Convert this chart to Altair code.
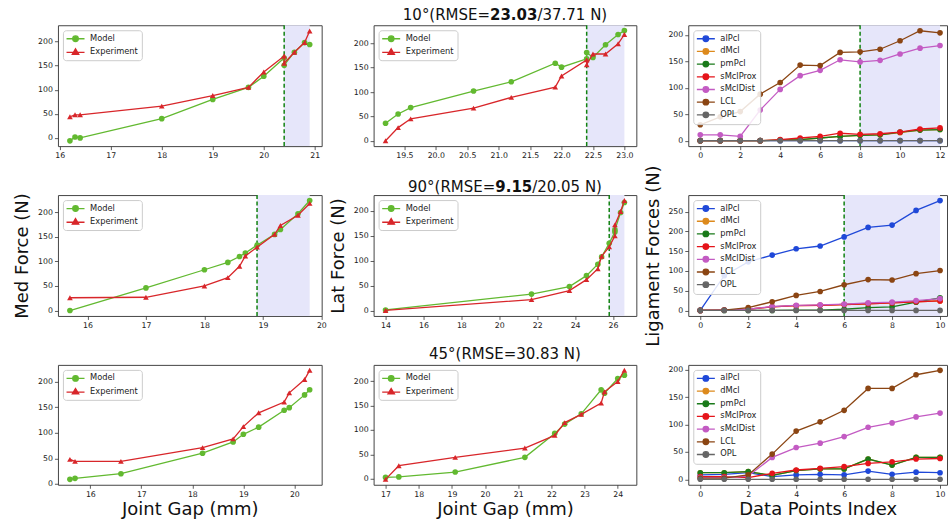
import altair as alt
import pandas as pd

FONT = "DejaVu Sans"

# ---------------- row titles ----------------
title_10 = ["10°(RMSE=", "23.03", "/37.71 N)"]
title_90 = ["90°(RMSE=", "9.15", "/20.05 N)"]
title_45 = ["45°(RMSE=30.83 N)"]

# ---------------- 10° row ----------------
med10_gap = [16.2, 16.3, 16.4, 18.0, 19.0, 19.7, 20.0, 20.4, 20.4, 20.6, 20.8, 20.9]
med10_model = [-6, 2, 0, 40, 80, 105, 128, 166, 151, 178, 198, 194]
med10_exp = [44, 48, 48, 66, 88, 105, 137, 170, 155, 178, 198, 222]
med10_shade = [20.4, 20.9]

lat10_gap = [19.2, 19.4, 19.6, 20.6, 21.2, 21.9, 22.0, 22.4, 22.4, 22.5, 22.7, 22.9, 23.0]
lat10_model = [36, 55, 68, 102, 121, 159, 151, 168, 181, 171, 197, 218, 226]
lat10_exp = [0, 27, 45, 67, 89, 110, 133, 166, 156, 178, 178, 199, 218]
lat10_shade = [22.4, 23.0]

lig10 = {
    "alPcl":    [0, 0, 0, 0, 0, 0, 0, 0, 0, 0, 0, 0, 0],
    "dMcl":     [0, 0, 0, 0, 1, 2, 5, 8, 10, 11, 15, 20, 21],
    "pmPcl":    [0, 0, 0, 0, 1, 2, 5, 8, 10, 11, 16, 20, 21],
    "sMclProx": [0, 0, 0, 0, 2, 5, 8, 14, 12, 13, 16, 22, 24],
    "sMclDist": [11, 11, 8, 58, 97, 123, 133, 153, 149, 152, 164, 175, 180],
    "LCL":      [30, 45, 55, 88, 110, 143, 142, 167, 168, 173, 189, 208, 204],
    "OPL":      [0, 0, 0, 0, 0, 0, 0, 0, 0, 0, 0, 0, 0],
}
lig10_shade = [8, 12]

# ---------------- 90° row ----------------
med90_gap = [15.7, 17.0, 18.0, 18.4, 18.6, 18.7, 18.9, 19.2, 19.3, 19.6, 19.8]
med90_model = [0, 46, 83, 98, 110, 117, 133, 155, 165, 197, 224]
med90_exp = [26, 27, 50, 67, 90, 111, 129, 155, 173, 194, 218]
med90_shade = [18.9, 19.8]

lat90_gap = [14.0, 21.7, 23.7, 24.6, 25.2, 25.4, 25.8, 26.1, 26.1, 26.4, 26.6]
lat90_model = [1, 33, 48, 70, 93, 108, 135, 158, 162, 197, 217]
lat90_exp = [0, 22, 40, 62, 84, 109, 128, 150, 172, 199, 221]
lat90_shade = [25.8, 26.6]

lig90 = {
    "alPcl":    [0, 88, 123, 140, 156, 163, 186, 210, 216, 253, 278],
    "dMcl":     [0, 1, 3, 9, 12, 13, 15, 17, 19, 22, 24],
    "pmPcl":    [0, 0, 0, 0, 1, 1, 3, 7, 9, 21, 32],
    "sMclProx": [0, 1, 3, 9, 12, 13, 15, 17, 19, 22, 24],
    "sMclDist": [0, 1, 3, 10, 13, 14, 16, 19, 21, 25, 30],
    "LCL":      [0, 1, 7, 22, 38, 48, 65, 78, 77, 93, 101],
    "OPL":      [0, 0, 0, 0, 0, 0, 0, 0, 0, 0, 0],
}
lig90_shade = [6, 10]

# ---------------- 45° row ----------------
med45_gap = [15.6, 15.7, 16.6, 18.2, 18.8, 19.0, 19.3, 19.8, 19.9, 20.2, 20.3]
med45_model = [9, 11, 20, 60, 82, 97, 111, 144, 149, 174, 184]
med45_exp = [48, 44, 44, 71, 88, 112, 139, 160, 178, 204, 222]

lat45_gap = [17.0, 17.4, 19.1, 21.2, 22.1, 22.4, 22.9, 23.5, 23.6, 24.0, 24.2]
lat45_model = [3, 4, 14, 44, 93, 112, 133, 182, 175, 205, 212]
lat45_exp = [-1, 27, 44, 63, 89, 115, 132, 155, 178, 199, 222]

lig45 = {
    "alPcl":    [8, 9, 12, 5, 8, 9, 8, 15, 9, 13, 12],
    "dMcl":     [12, 12, 14, 7, 16, 19, 19, 37, 26, 40, 40],
    "pmPcl":    [12, 12, 14, 7, 16, 19, 19, 37, 26, 40, 40],
    "sMclProx": [5, 5, 3, 11, 17, 20, 23, 29, 32, 37, 38],
    "sMclDist": [3, 3, 6, 40, 58, 66, 78, 95, 103, 114, 121],
    "LCL":      [2, 2, 8, 46, 88, 105, 126, 166, 166, 191, 199],
    "OPL":      [0, 0, 0, 0, 0, 0, 0, 0, 0, 0, 0],
}

GAP_SERIES = ["Model", "Experiment"]
GAP_COLORS = ["#62b930", "#d8262a"]
LIG_NAMES = ["alPcl", "dMcl", "pmPcl", "sMclProx", "sMclDist", "LCL", "OPL"]
LIG_COLORS = ["#1f48d8", "#dd8a1c", "#1a7a1a", "#e5141b", "#c35bc3", "#8b4513", "#666666"]

SHADE = "#e6e6fa"
DASH = "#128212"
CIRCLE_LINE = "M-2,0L2,0M-0.62,0A0.62,0.62,0,1,1,0.62,0A0.62,0.62,0,1,1,-0.62,0Z"
TRI_LINE = "M-2,0L2,0M0,-0.8L0.72,0.42L-0.72,0.42Z"

COL_W = [264, 263, 259]
ROW_H = [121, 121, 120]


def legend():
    return alt.Legend(
        title=None, orient="top-left", offset=4.5, padding=3,
        fillColor="rgba(255,255,255,0.85)", strokeColor="#cccccc", cornerRadius=3,
        labelFont=FONT, labelFontSize=8.3, labelColor="#222222",
        symbolSize=81, symbolOffset=4.1, labelOffset=9, rowPadding=1.7,
        symbolStrokeWidth=1.3,
    )


def axes(xticks, yticks, xfmt, xtitle, ytitle):
    xkw = dict(values=xticks, format=xfmt, labelFlush=False, labelOverlap=False)
    if xtitle:
        xkw.update(title=xtitle, titleFontSize=18, titleY=30, titleBaseline="alphabetic",
                   titleFontWeight="normal", titleColor="#111111")
    else:
        xkw.update(title=None)
    ykw = dict(values=yticks, format="d", labelFlush=False, labelOverlap=False)
    if ytitle:
        ykw.update(title=ytitle, titleFontSize=18, titleX=-35, titleBaseline="middle",
                   titleFontWeight="normal", titleColor="#111111")
    else:
        ykw.update(title=None)
    return alt.Axis(**xkw), alt.Axis(**ykw)


def shade_layers(shade, xs, xax):
    sdf = pd.DataFrame({"start": [shade[0]], "end": [shade[1]]})
    rect = alt.Chart(sdf).mark_rect(color=SHADE).encode(
        x=alt.X("start:Q", scale=xs, axis=xax), x2="end:Q")
    rule = alt.Chart(sdf).mark_rule(color=DASH, strokeDash=[4, 2.5], strokeWidth=1.5).encode(
        x=alt.X("start:Q", scale=xs, axis=xax))
    return [rect, rule]


def title_layers(parts, width, dy):
    c = width / 2
    out = []
    if len(parts) == 1:
        out.append(alt.Chart(pd.DataFrame({"t": parts})).mark_text(
            align="center", baseline="alphabetic", fontSize=15, font=FONT, color="#111111"
        ).encode(text="t:N", x=alt.value(c), y=alt.value(dy)))
        return out
    # widths (DejaVu Sans advance widths at 15px)
    lw = 87.4
    bw = 47.5 if len(parts[1]) == 5 else 37.0
    rw = 69.8
    start = c - (lw + bw + rw) / 2
    specs = [(parts[0], "right", start + lw, "normal"),
             (parts[1], "left", start + lw, "bold"),
             (parts[2], "left", start + lw + bw, "normal")]
    for txt, al, xpos, wt in specs:
        out.append(alt.Chart(pd.DataFrame({"t": [txt]})).mark_text(
            align=al, baseline="alphabetic", fontSize=15, font=FONT, fontWeight=wt, color="#111111"
        ).encode(text="t:N", x=alt.value(xpos), y=alt.value(dy)))
    return out


def gap_panel(gap, model, exp, xdom, ydom, xticks, yticks, width, height,
              shade=None, xfmt="d", xtitle=None, ytitle=None, title=None, title_dy=-5):
    n = len(gap)
    df = pd.DataFrame({
        "gap": list(gap) + list(gap),
        "force": list(model) + list(exp),
        "series": ["Model"] * n + ["Experiment"] * n,
        "idx": list(range(n)) * 2,
    })
    xax, yax = axes(xticks, yticks, xfmt, xtitle, ytitle)
    xs = alt.Scale(domain=xdom, nice=False, zero=False)
    ys = alt.Scale(domain=ydom, nice=False, zero=False)
    X = alt.X("gap:Q", scale=xs, axis=xax)
    Y = alt.Y("force:Q", scale=ys, axis=yax)
    cscale = alt.Scale(domain=GAP_SERIES, range=GAP_COLORS)
    layers = []
    if shade:
        layers += shade_layers(shade, xs, xax)
    leg = legend()
    layers.append(alt.Chart(df).transform_filter("false").mark_point(
        filled=True, size=81, opacity=1, strokeWidth=1.3).encode(
        x=X, y=Y,
        color=alt.Color("series:N", scale=cscale, legend=leg),
        stroke=alt.Stroke("series:N", scale=cscale, legend=leg),
        shape=alt.Shape("series:N", scale=alt.Scale(domain=GAP_SERIES, range=[CIRCLE_LINE, TRI_LINE]), legend=leg),
    ))
    color = alt.Color("series:N", scale=cscale, legend=None)
    for s, shp in [("Model", "circle"), ("Experiment", "triangle-up")]:
        base = alt.Chart(df).transform_filter(alt.datum.series == s)
        layers.append(base.mark_line(strokeWidth=1.3).encode(x=X, y=Y, color=color, order="idx:Q"))
        layers.append(base.mark_point(filled=True, shape=shp, size=32, opacity=1).encode(x=X, y=Y, color=color))
    if title:
        layers += title_layers(title, width, title_dy)
    return alt.layer(*layers).properties(width=width, height=height)


def lig_panel(lig, xdom, ydom, xticks, yticks, width, height, shade=None, xtitle=None, ytitle=None):
    rows = []
    for name in LIG_NAMES:
        for i, v in enumerate(lig[name]):
            rows.append({"idx": i, "force": v, "series": name})
    df = pd.DataFrame(rows)
    xax, yax = axes(xticks, yticks, "d", xtitle, ytitle)
    xs = alt.Scale(domain=xdom, nice=False, zero=False)
    ys = alt.Scale(domain=ydom, nice=False, zero=False)
    X = alt.X("idx:Q", scale=xs, axis=xax)
    Y = alt.Y("force:Q", scale=ys, axis=yax)
    cscale = alt.Scale(domain=LIG_NAMES, range=LIG_COLORS)
    layers = []
    if shade:
        layers += shade_layers(shade, xs, xax)
    leg = legend()
    layers.append(alt.Chart(df).transform_filter("false").mark_point(
        filled=True, size=81, opacity=1, strokeWidth=1.3).encode(
        x=X, y=Y,
        color=alt.Color("series:N", scale=cscale, legend=leg),
        stroke=alt.Stroke("series:N", scale=cscale, legend=leg),
        shape=alt.Shape("series:N", scale=alt.Scale(domain=LIG_NAMES, range=[CIRCLE_LINE] * 7), legend=leg),
    ))
    for name in LIG_NAMES:
        base = alt.Chart(df).transform_filter(alt.datum.series == name)
        color = alt.Color("series:N", scale=cscale, legend=None)
        layers.append(base.mark_line(strokeWidth=1.3).encode(x=X, y=Y, color=color, order="idx:Q"))
        layers.append(base.mark_point(filled=True, shape="circle", size=32, opacity=1).encode(x=X, y=Y, color=color))
    return alt.layer(*layers).properties(width=width, height=height)


panels = [
    gap_panel(med10_gap, med10_model, med10_exp, [15.965, 21.135], [-17, 234],
              [16, 17, 18, 19, 20, 21], [0, 50, 100, 150, 200], COL_W[0], ROW_H[0], shade=med10_shade),
    gap_panel(lat10_gap, lat10_model, lat10_exp, [19.01, 23.19], [-11, 237],
              [19.5, 20.0, 20.5, 21.0, 21.5, 22.0, 22.5, 23.0], [0, 50, 100, 150, 200], COL_W[1], ROW_H[0],
              shade=lat10_shade, xfmt=".1f", title=title_10, title_dy=-5),
    lig_panel(lig10, [-0.6, 12.35], [-10.4, 218.4], [0, 2, 4, 6, 8, 10, 12], [0, 50, 100, 150, 200],
              COL_W[2], ROW_H[0], shade=lig10_shade),

    gap_panel(med90_gap, med90_model, med90_exp, [15.495, 20.005], [-11, 235],
              [16, 17, 18, 19, 20], [0, 50, 100, 150, 200], COL_W[0], ROW_H[1], shade=med90_shade,
              ytitle="Med Force (N)"),
    gap_panel(lat90_gap, lat90_model, lat90_exp, [13.37, 27.23], [-11, 232],
              [14, 16, 18, 20, 22, 24, 26], [0, 50, 100, 150, 200], COL_W[1], ROW_H[1],
              shade=lat90_shade, ytitle="Lat Force (N)", title=title_90, title_dy=-3.5),
    lig_panel(lig90, [-0.5, 10.29], [-13.9, 291.9], [0, 2, 4, 6, 8, 10], [0, 50, 100, 150, 200, 250],
              COL_W[2], ROW_H[1], shade=lig90_shade, ytitle="Ligament Forces (N)"),

    gap_panel(med45_gap, med45_model, med45_exp, [15.365, 20.535], [-1.6, 232.6],
              [16, 17, 18, 19, 20], [0, 50, 100, 150, 200], COL_W[0], ROW_H[2],
              xtitle="Joint Gap (mm)"),
    gap_panel(lat45_gap, lat45_model, lat45_exp, [16.64, 24.56], [-12, 233],
              [17, 18, 19, 20, 21, 22, 23, 24], [0, 50, 100, 150, 200], COL_W[1], ROW_H[2],
              xtitle="Joint Gap (mm)", title=title_45, title_dy=-5.5),
    lig_panel(lig45, [-0.5, 10.29], [-10, 209], [0, 2, 4, 6, 8, 10], [0, 50, 100, 150, 200],
              COL_W[2], ROW_H[2], xtitle="Data Points Index"),
]

chart = alt.concat(
    *panels, columns=3, spacing={"row": 49, "column": 52}, bounds="flush", align="each"
).resolve_scale(
    color="independent", stroke="independent", shape="independent"
).properties(
    padding={"left": 13, "top": 7, "right": 0, "bottom": 0}
).configure(
    font=FONT
).configure_view(
    stroke="#444444", strokeWidth=1
).configure_axis(
    domain=False, grid=False, labelFont=FONT, labelFontSize=7.8, labelColor="#222222",
    tickColor="#333333", tickSize=3.5, tickWidth=0.8, labelPadding=2,
    titleFont=FONT
)

chart.save("out.html", embed_options={"renderer": "svg", "actions": False})
